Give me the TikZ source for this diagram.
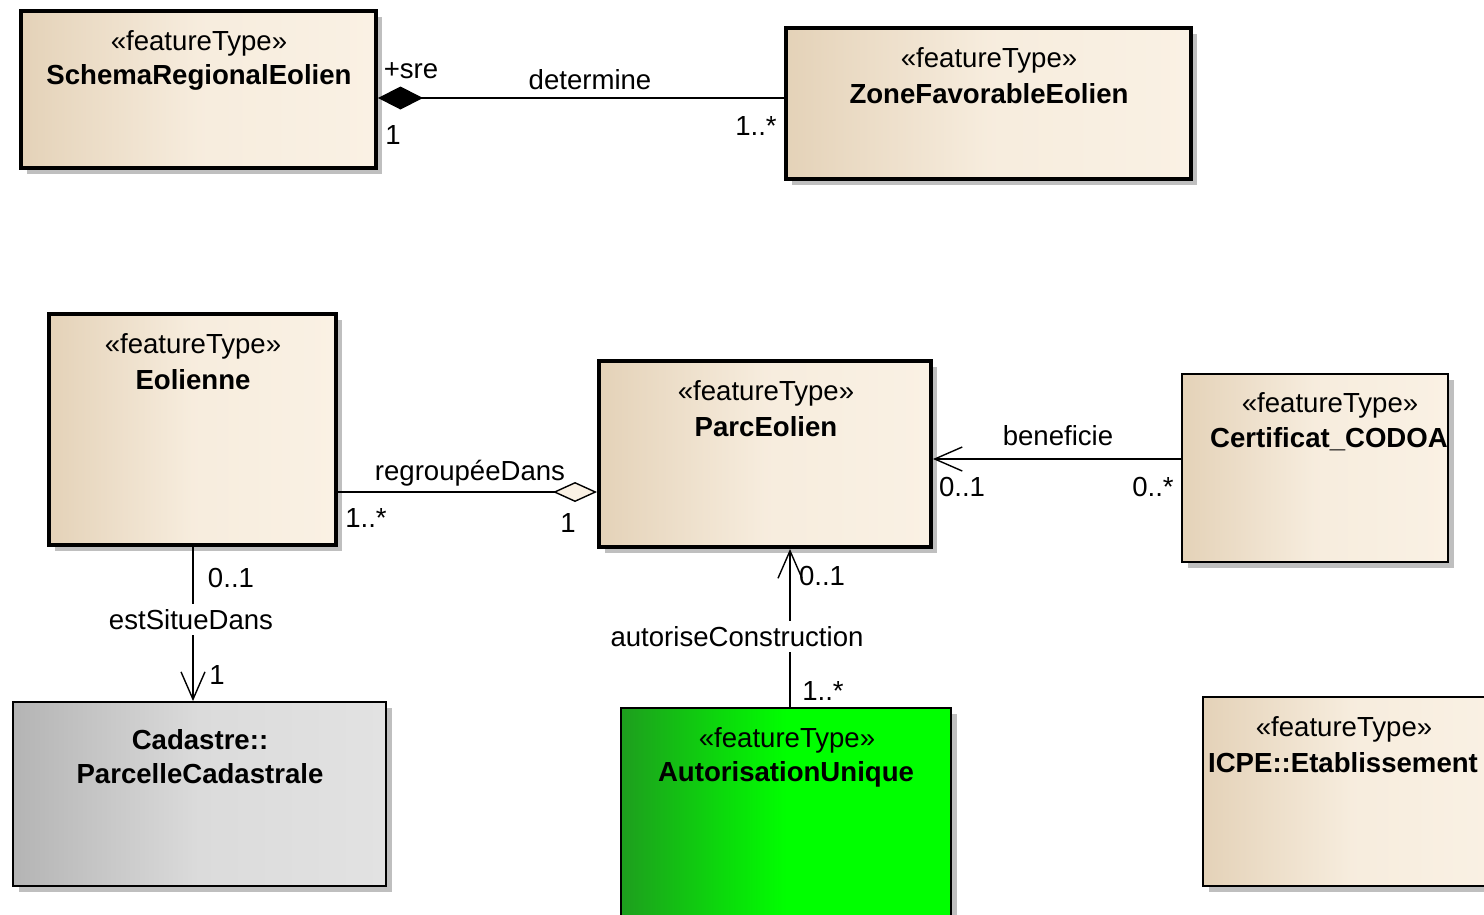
\documentclass[tikz,border=0pt]{standalone}
\usepackage{fontspec}
\setmainfont{Liberation Sans}
\usetikzlibrary{arrows.meta,shadows}

\definecolor{creamL}{HTML}{E4D2B8}
\definecolor{creamR}{HTML}{FAF1E4}
\definecolor{greyL}{HTML}{B4B4B4}
\definecolor{greyR}{HTML}{E2E2E2}
\definecolor{greenL}{HTML}{1E9E1E}
\definecolor{greenR}{HTML}{00FF00}

\tikzset{
  umlfont/.style={font=\fontsize{15.7}{18}\selectfont},
  shadowed/.style={drop shadow={shadow xshift=0.12cm, shadow yshift=-0.12cm, fill=black!25, opacity=1}},
  featbox/.style={draw=black, line width=2.3pt, left color=creamL, right color=creamR, middle color=creamR!85!creamL, shadowed, inner sep=0pt},
  featthin/.style={featbox, line width=1.1pt},
  greybox/.style={featthin, left color=greyL, right color=greyR, middle color=greyR!85!greyL},
  greenbox/.style={featthin, left color=greenL, right color=greenR, middle color=greenR},
  stereo/.style={umlfont, inner sep=0pt, yshift=-0.06cm},
  title/.style={stereo, font=\fontsize{15.7}{18}\selectfont\bfseries},
  lbl/.style={umlfont, inner sep=1pt, yshift=-0.03cm},
  assoc/.style={draw=black, line width=0.8pt},
  navtip/.style={-{Straight Barb[length=0.55cm, width=0.48cm]}},
}

\begin{document}
\begin{tikzpicture}[x=0.02cm, y=-0.02cm]
\useasboundingbox[fill=white] (0,0) rectangle (1484,914);

% classes
\node[featbox, minimum width=7.10cm, minimum height=3.14cm] (sre) at (198.5,89.5) {};
\node[featbox, minimum width=8.10cm, minimum height=3.02cm] (zfe) at (988.5,103.5) {};
\node[featbox, minimum width=5.74cm, minimum height=4.62cm] (eol) at (192.5,429.5) {};
\node[featbox, minimum width=6.64cm, minimum height=3.72cm] (parc) at (765,454) {};
\node[featthin, minimum width=5.32cm, minimum height=3.76cm] (cert) at (1315,468) {};
\node[greybox, minimum width=7.46cm, minimum height=3.68cm] (cad) at (199.5,794) {};
\node[greenbox, minimum width=6.60cm, minimum height=5.84cm] (aut) at (786,854) {};
\node[featthin, minimum width=5.94cm, minimum height=3.78cm] (icpe) at (1351.5,791.5) {};

% class texts
\node[stereo] (sre-st) at (199,40) {«featureType»};
\node[title] (sre-nm) at (199,74) {SchemaRegionalEolien};
\node[stereo] (zfe-st) at (989,57) {«featureType»};
\node[title] (zfe-nm) at (989,91) {ZoneFavorableEolien};
\node[stereo] (eol-st) at (193,343) {«featureType»};
\node[title] (eol-nm) at (193,377) {Eolienne};
\node[stereo] (parc-st) at (766,390) {«featureType»};
\node[title] (parc-nm) at (766,424) {ParcEolien};
\node[stereo] (cert-st) at (1330,402) {«featureType»};
\node[title] (cert-nm) at (1329,436) {Certificat\_CODOA};
\node[title] (cad-st) at (200,737) {Cadastre::};
\node[title] (cad-nm) at (200,771) {ParcelleCadastrale};
\node[stereo] (aut-st) at (787,737) {«featureType»};
\node[title] (aut-nm) at (786,771) {AutorisationUnique};
\node[stereo] (icpe-st) at (1344,726) {«featureType»};
\node[title] (icpe-nm) at (1343,760) {ICPE::Etablissement};

% connectors
\coordinate (det) at (0,98);
\coordinate (rg) at (0,492);
\coordinate (ben) at (0,459);
\coordinate (auc) at (790,0);

\draw[assoc, {Diamond[length=0.9cm, width=0.46cm, fill=black]}-] (sre.east |- det) -- (zfe.west |- det);
\draw[assoc, -{Diamond[length=0.88cm, width=0.4cm, fill=creamR]}] (eol.east |- rg) -- (parc.west |- rg);
\draw[assoc, navtip] (cert.west |- ben) -- (parc.east |- ben);
\draw[assoc, navtip] (eol.south -| 193,0) -- (cad.north -| 193,0);
\draw[assoc, navtip] (aut.north -| auc) -- (parc.south -| auc);

% association labels
\node[lbl] (det-r) at (411,69) {+sre};
\node[lbl] (det-m1) at (393,134) {1};
\node[lbl] (det-n) at (590,78) {determine};
\node[lbl] (det-m2) at (756,125) {1..*};

\node[lbl] (rg-n) at (470,472) {regroupéeDans};
\node[lbl] (rg-m1) at (366,516) {1..*};
\node[lbl] (rg-m2) at (568,521) {1};

\node[lbl] (ben-n) at (1058,434) {beneficie};
\node[lbl] (ben-m1) at (962,485) {0..1};
\node[lbl] (ben-m2) at (1153,485) {0..*};

\node[lbl, fill=white, inner sep=3pt] (esd-n) at (191,618) {estSitueDans};
\node[lbl] (esd-m1) at (231,576) {0..1};
\node[lbl] (esd-m2) at (217,673) {1};

\node[lbl, fill=white, inner sep=3pt] (auc-n) at (737,635) {autoriseConstruction};
\node[lbl] (auc-m1) at (822,574) {0..1};
\node[lbl] (auc-m2) at (823,689) {1..*};
\end{tikzpicture}
\end{document}
